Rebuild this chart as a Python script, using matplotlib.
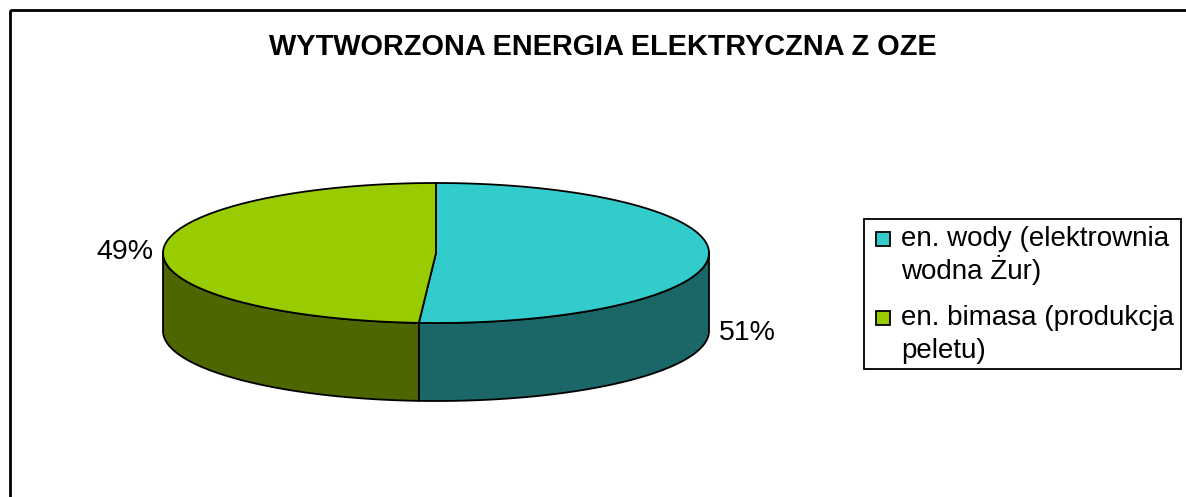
import numpy as np
import matplotlib
matplotlib.use('Agg')
import matplotlib.pyplot as plt
from matplotlib.patches import Polygon, Rectangle

# data
categories = ['en. wody (elektrownia\nwodna Żur)', 'en. bimasa (produkcja\npeletu)']
values = [51, 49]
top_colours = ['#33CCCC', '#99CC00']
side_colours = ['#1B6666', '#4D6600']

title = 'WYTWORZONA ENERGIA ELEKTRYCZNA Z OZE'

plt.rcParams['font.family'] = ['Liberation Sans', 'DejaVu Sans']

W, H = 1186, 497
fig = plt.figure(figsize=(W / 100, H / 100), dpi=100)
ax = fig.add_axes([0, 0, 1, 1])
ax.set_xlim(0, W)
ax.set_ylim(H, 0)
ax.axis('off')

# outer chart frame (runs off the right and bottom)
ax.add_patch(Rectangle((10, 10), W + 20, H + 20, fill=False, ec='black', lw=2))

ax.text(603, 55, title, ha='center', va='baseline', fontsize=20.8,
        fontweight='bold')

# pie geometry in pixels
cx, cy = 436, 253
a, b = 273, 70
depth = 78


def pt(t, dy=0):
    # t = 0 at top, increasing clockwise on screen
    return cx + a * np.sin(t), cy - b * np.cos(t) + dy


fracs = np.array(values) / np.sum(values)
edges = np.concatenate([[0], np.cumsum(fracs)]) * 2 * np.pi

# side walls (only the front half is visible)
for i in range(len(values)):
    t0 = max(edges[i], np.pi / 2)
    t1 = min(edges[i + 1], 3 * np.pi / 2)
    if t1 <= t0:
        continue
    t = np.linspace(t0, t1, 200)
    xs, ys = pt(t)
    xb, yb = pt(t[::-1], depth)
    poly = np.column_stack([np.concatenate([xs, xb]), np.concatenate([ys, yb])])
    ax.add_patch(Polygon(poly, closed=True, fc=side_colours[i], ec='black',
                         lw=1.3, joinstyle='round'))

# top faces
for i in range(len(values)):
    t = np.linspace(edges[i], edges[i + 1], 300)
    xs, ys = pt(t)
    poly = np.column_stack([np.concatenate([[cx], xs]), np.concatenate([[cy], ys])])
    ax.add_patch(Polygon(poly, closed=True, fc=top_colours[i], ec='black',
                         lw=1.3, joinstyle='round'))

# percentage labels
for i in range(len(values)):
    mid = (edges[i] + edges[i + 1]) / 2
    lx = cx + 1.14 * a * np.sin(mid)
    ly = cy - b * np.cos(mid) + (depth if np.sin(mid) > 0 else 1)
    ax.text(lx, ly, f'{values[i]}%', ha='center', va='center', fontsize=20.5)

# legend
ax.add_patch(Rectangle((864, 219), 317, 150, fill=False, ec='black', lw=1.3))
base_leg = [246, 325]
for i in range(len(values)):
    ax.add_patch(Rectangle((876, base_leg[i] - 14), 14, 14, fc=top_colours[i],
                           ec='black', lw=1.3))
    for j, line in enumerate(categories[i].split('\n')):
        ax.text(901, base_leg[i] + 33 * j, line, ha='left', va='baseline',
                fontsize=20)

fig.savefig('out.png', dpi=100)
